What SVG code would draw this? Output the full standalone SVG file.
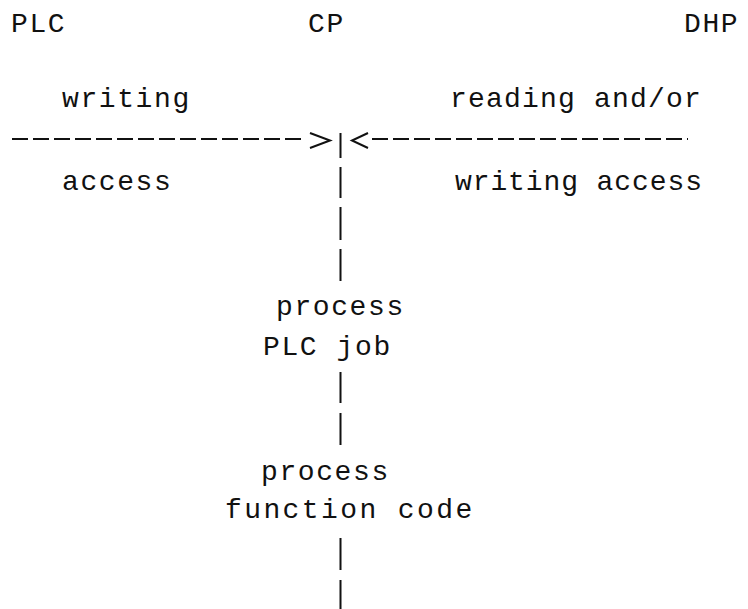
<svg xmlns="http://www.w3.org/2000/svg" width="748" height="609" viewBox="0 0 748 609">
  <style>
    .t { font-family: "Liberation Mono", "DejaVu Sans Mono", monospace; font-size: 28px; letter-spacing: 1.6px; fill: #111; }
    .ln { fill: none; stroke: #111; stroke-width: 2; }
    .dash { stroke-dasharray: 16 5; }
  </style>
  <rect width="748" height="609" fill="#fff"/>

  <!-- parties -->
  <g id="plc"><text class="t" x="11" y="32">PLC</text></g>
  <g id="cp"><text class="t" x="308" y="32">CP</text></g>
  <g id="dhp"><text class="t" x="684" y="32">DHP</text></g>

  <!-- access labels -->
  <g id="plc-access">
    <text class="t" x="62" y="107">writing</text>
    <text class="t" x="62" y="190">access</text>
  </g>
  <g id="dhp-access">
    <text class="t" x="450" y="107" style="letter-spacing:1.2px">reading and/or</text>
    <text class="t" x="455" y="190" style="letter-spacing:0.9px">writing access</text>
  </g>

  <!-- processing steps -->
  <g id="process-plc-job">
    <text class="t" x="276" y="315">process</text>
    <text class="t" x="263" y="355">PLC job</text>
  </g>
  <g id="process-function-code">
    <text class="t" x="261" y="480">process</text>
    <text class="t" x="225" y="518" style="letter-spacing:2.4px">function code</text>
  </g>

  <!-- connectors -->
  <g id="connectors">
    <line class="ln dash" x1="12" y1="139" x2="305" y2="139"/>
    <polyline class="ln" points="310,133 330,140.5 310,148"/>
    <line class="ln dash" x1="372" y1="139" x2="688" y2="139"/>
    <polyline class="ln" points="368,133 352,140.5 368,148"/>
    <path class="ln" d="M340.5 133V158 M340.5 167V198 M340.5 207V240 M340.5 249V281 M340.5 372V403 M340.5 413V445 M340.5 538V570 M340.5 580V609"/>
  </g>
</svg>
